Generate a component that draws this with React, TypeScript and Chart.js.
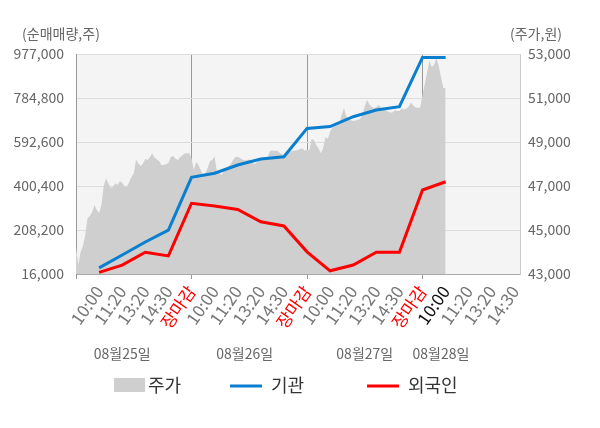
import { useEffect, useRef } from "react"
import { Chart, registerables } from "chart.js"

Chart.register(...registerables)

const FONT = "'Noto Sans CJK KR', 'Noto Sans', sans-serif"

// x axis: one slot per label, 0 = market open (no label)
const tickLabels = [
	"",
	"10:00", "11:20", "13:20", "14:30", "장마감",
	"10:00", "11:20", "13:20", "14:30", "장마감",
	"10:00", "11:20", "13:20", "14:30", "장마감",
	"10:00", "11:20", "13:20", "14:30",
]
const currentSlot = 16

const dayLabels = ["08월25일", "08월26일", "08월27일", "08월28일"]
const daySlots = [2, 7.3, 12.5, 15.8]

const leftTicks = [16000, 208200, 400400, 592600, 784800, 977000]
const rightTicks = [43000, 45000, 47000, 49000, 51000, 53000]

// 기관 / 외국인 cumulative net volume, slots 1..16
const institution = [
	43000, 99000, 156000, 208000, 438000,
	456000, 492000, 518000, 528000, 652000,
	660000, 703000, 732000, 747000, 962000,
	962000,
]
const foreign = [
	23000, 55000, 111000, 95000, 325000,
	313000, 298000, 244000, 226000, 113000,
	30000, 55000, 111000, 111000, 383000,
	419000,
]

// 주가, one reading every 0.1 slot from the open
const PRICE_STEP = 0.1
const prices = [
	44240, 43410, 44000, 44270, 44770, 45550, 45640, 45820, 46140, 45910,
	45770, 46140, 47000, 47350, 47120, 46910, 46950, 47120, 47050, 47230,
	47140, 47000, 46950, 47180, 47410, 47570, 48200, 48020, 47910, 48020,
	48230, 48180, 48320, 48480, 48300, 48200, 48140, 47950, 47950, 48000,
	48050, 48320, 48360, 48250, 48180, 48300, 48390, 48480, 48490, 48490,
	48260, 47730, 48090, 47950, 47730, 47500, 47590, 47820, 48140, 48180,
	48340, 47650, 47610, 47500, 47680, 47820, 47890, 48000, 48180, 48320,
	48330, 48270, 48200, 48160, 48180, 48200, 48160, 48000, 48050, 48160,
	48200, 48230, 48270, 48320, 48590, 48610, 48590, 48610, 48520, 48450,
	48390, 48500, 48550, 48570, 48600, 48610, 48640, 48680, 48710, 48610,
	48640, 48640, 49140, 49090, 48860, 48700, 48490, 48730, 49230, 49140,
	49480, 49660, 49730, 49770, 49860, 50230, 50540, 50180, 50050, 49990,
	49950, 49980, 50010, 50050, 50230, 50640, 50910, 50700, 50600, 50540,
	50590, 50680, 50570, 50500, 50440, 50390, 50340, 50340, 50440, 50410,
	50410, 50530, 50480, 50520, 50610, 50790, 50660, 50570, 50560, 50560,
	51140, 51640, 52180, 52680, 52410, 52500, 52820, 52450, 51950, 51450,
	51450,
]

const fmt = (v: number) => v.toLocaleString("en-US")

// legend is laid out by hand: Chart.js spaces its items too evenly
const legendX = [114, 230, 367]
const LEGEND_Y = 385

const decorations = {
	id: "decorations",
	beforeDraw(chart: Chart) {
		const { ctx, chartArea } = chart
		ctx.save()
		ctx.fillStyle = "#f4f4f4"
		ctx.fillRect(chartArea.left, chartArea.top, chartArea.right - chartArea.left, chartArea.bottom - chartArea.top)
		ctx.restore()
	},
	afterDraw(chart: Chart) {
		const { ctx, chartArea } = chart
		const x = chart.scales.x
		ctx.save()
		ctx.font = `14px ${FONT}`
		ctx.fillStyle = "#666"
		ctx.textBaseline = "middle"
		ctx.textAlign = "center"
		ctx.fillText("(순매매량,주)", 61, chartArea.top - 20)
		ctx.fillText("(주가,원)", 536, chartArea.top - 20)
		dayLabels.forEach((label, i) => {
			ctx.fillText(label, x.getPixelForValue(daySlots[i]), chartArea.bottom + 80)
		})

		ctx.font = `18px ${FONT}`
		ctx.textAlign = "left"
		chart.data.datasets.forEach((ds, i) => {
			const left = legendX[i]
			const color = ds.borderColor as string
			if (i === 0) {
				ctx.fillStyle = ds.backgroundColor as string
				ctx.fillRect(left, LEGEND_Y - 7, 31, 14)
			} else {
				ctx.strokeStyle = color
				ctx.lineWidth = 3
				ctx.beginPath()
				ctx.moveTo(left, LEGEND_Y + 1)
				ctx.lineTo(left + 32, LEGEND_Y + 1)
				ctx.stroke()
			}
			ctx.fillStyle = "#333"
			ctx.fillText(ds.label ?? "", left + (i === 0 ? 34 : 41), LEGEND_Y)
		})
		ctx.restore()
	},
}

export default function App() {
	const canvasRef = useRef<HTMLCanvasElement>(null)

	useEffect(() => {
		if (!canvasRef.current) return
		const ctx = canvasRef.current.getContext("2d")
		if (!ctx) return

		const chart = new Chart(ctx, {
			type: "line",
			data: {
				datasets: [
					{
						label: "주가",
						data: prices.map((v, i) => ({ x: i * PRICE_STEP, y: v })),
						yAxisID: "yPrice",
						borderWidth: 0,
						borderColor: "#cfcfcf",
						backgroundColor: "#cfcfcf",
						fill: "start",
						pointRadius: 0,
						order: 10,
					},
					{
						label: "기관",
						data: institution.map((v, i) => ({ x: i + 1, y: v })),
						yAxisID: "y",
						borderColor: "#0a7fcf",
						backgroundColor: "#0a7fcf",
						borderWidth: 3,
						pointRadius: 0,
						order: 2,
					},
					{
						label: "외국인",
						data: foreign.map((v, i) => ({ x: i + 1, y: v })),
						yAxisID: "y",
						borderColor: "#ff0000",
						backgroundColor: "#ff0000",
						borderWidth: 3,
						pointRadius: 0,
						order: 1,
					},
				],
			},
			options: {
				animation: false,
				responsive: true,
				maintainAspectRatio: false,
				layout: { padding: { top: 54, bottom: 62, left: 0, right: 0 } },
				plugins: {
					tooltip: { enabled: false },
					legend: { display: false },
				},
				scales: {
					x: {
						type: "linear",
						min: 0,
						max: 19.22,
						afterBuildTicks: (scale) => {
							scale.ticks = tickLabels.map((_, i) => ({ value: i }))
						},
						afterFit: (scale) => {
							scale.height = 92
						},
						grid: {
							color: (c) => (c.tick && c.tick.value % 5 === 0 ? "#999" : "rgba(0,0,0,0)"),
							tickLength: 5,
						},
						border: { color: "#aaa" },
						ticks: {
							autoSkip: false,
							minRotation: 55,
							maxRotation: 55,
							padding: 3,
							font: { size: 17, family: FONT },
							color: (c) => {
								const i = c.tick.value
								if (tickLabels[i] === "장마감") return "#ff0000"
								if (i === currentSlot) return "#111"
								return "#777"
							},
							callback: (v) => tickLabels[Number(v)] ?? "",
						},
					},
					y: {
						position: "left",
						min: leftTicks[0],
						max: leftTicks[leftTicks.length - 1],
						afterBuildTicks: (scale) => {
							scale.ticks = leftTicks.map((v) => ({ value: v }))
						},
						afterFit: (scale) => {
							scale.width = 76
						},
						grid: { color: "#dddddd", drawTicks: false },
						border: { color: "#999" },
						ticks: {
							padding: 12,
							color: "#666",
							font: { size: 14, family: FONT },
							callback: (v) => fmt(Number(v)),
						},
					},
					yPrice: {
						position: "right",
						min: rightTicks[0],
						max: rightTicks[rightTicks.length - 1],
						afterBuildTicks: (scale) => {
							scale.ticks = rightTicks.map((v) => ({ value: v }))
						},
						afterFit: (scale) => {
							scale.width = 80
						},
						grid: { drawOnChartArea: false, drawTicks: false },
						border: { color: "#ccc" },
						ticks: {
							padding: 8,
							color: "#666",
							font: { size: 14, family: FONT },
							callback: (v) => fmt(Number(v)),
						},
					},
				},
			},
			plugins: [decorations],
		})

		return () => {
			chart.destroy()
		}
	}, [])

	return (
		<div style={{ position: "fixed", left: 0, top: 0, width: 600, height: 428 }}>
			<canvas ref={canvasRef} />
		</div>
	)
}
